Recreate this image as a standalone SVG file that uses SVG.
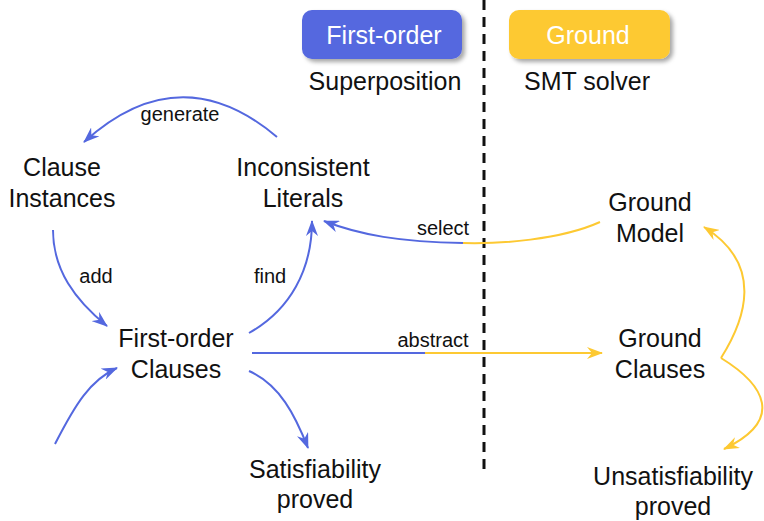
<svg xmlns="http://www.w3.org/2000/svg" width="764" height="521" viewBox="0 0 764 521">
<style>
text{font-family:"Liberation Sans",Arial,sans-serif;fill:#111;text-anchor:middle}
.n{font-size:25px}
.l{font-size:20px}
.h{font-size:25px;fill:#fff}
.b{fill:none;stroke:#5468df;stroke-width:2}
.y{fill:none;stroke:#fdc932;stroke-width:2}
</style>
<defs>
<filter id="sh" x="-10%" y="-20%" width="130%" height="160%">
<feDropShadow dx="3" dy="3" stdDeviation="2" flood-color="#000" flood-opacity="0.35"/>
</filter>
<marker id="ab" markerUnits="userSpaceOnUse" viewBox="0 0 16 12" refX="15" refY="6" markerWidth="16" markerHeight="12" orient="auto">
<path d="M0,0 L16,6 L0,12 L5,6 z" fill="#5468df"/>
</marker>
<marker id="ay" markerUnits="userSpaceOnUse" viewBox="0 0 16 12" refX="15" refY="6" markerWidth="16" markerHeight="12" orient="auto">
<path d="M0,0 L16,6 L0,12 L5,6 z" fill="#fdc932"/>
</marker>
</defs>

<line x1="484" y1="0" x2="484" y2="472" stroke="#111" stroke-width="3" stroke-dasharray="10,7"/>

<g id="hdr-first">
<rect x="302" y="10" width="160" height="49" rx="10" fill="#5468df" filter="url(#sh)"/>
<text class="h" x="384" y="44">First-order</text>
<text class="n" x="385" y="90">Superposition</text>
</g>
<g id="hdr-ground">
<rect x="509" y="10" width="161" height="49" rx="10" fill="#fdc932" filter="url(#sh)"/>
<text class="h" x="588" y="44">Ground</text>
<text class="n" x="587" y="90">SMT solver</text>
</g>

<g id="connectors">
<path class="b" d="M277,137 Q180,55 84,142" marker-end="url(#ab)"/>
<text class="l" x="180" y="121">generate</text>
<path class="b" d="M53,230 C53,270 75,300 107,326" marker-end="url(#ab)"/>
<text class="l" x="96" y="283">add</text>
<path class="b" d="M249,333 C290,310 312,270 312,221" marker-end="url(#ab)"/>
<text class="l" x="270" y="283">find</text>
<path class="y" d="M600,222 C560,240 500,244 463,243"/>
<path class="b" d="M463,243 C400,242 360,235 324,221" marker-end="url(#ab)"/>
<text class="l" x="443" y="235">select</text>
<path class="b" d="M252,353 L426,353"/>
<path class="y" d="M425,353 L602,353" marker-end="url(#ay)"/>
<text class="l" x="433" y="347">abstract</text>
<path class="b" d="M249,371 C280,385 295,415 308,448" marker-end="url(#ab)"/>
<path class="b" d="M55,444 C75,405 90,380 117,368" marker-end="url(#ab)"/>
<path class="y" d="M721,358 C745,320 765,265 704,227" marker-end="url(#ay)"/>
<path class="y" d="M721,358 C765,385 785,420 724,449" marker-end="url(#ay)"/>
</g>

<g id="clause-instances"><text class="n" x="62" y="176">Clause</text><text class="n" x="62" y="207">Instances</text></g>
<g id="inconsistent-literals"><text class="n" x="303" y="176">Inconsistent</text><text class="n" x="303" y="207">Literals</text></g>
<g id="first-order-clauses"><text class="n" x="176" y="347">First-order</text><text class="n" x="176" y="378">Clauses</text></g>
<g id="sat-proved"><text class="n" x="315" y="478">Satisfiability</text><text class="n" x="315" y="508">proved</text></g>
<g id="ground-model"><text class="n" x="650" y="211">Ground</text><text class="n" x="650" y="242">Model</text></g>
<g id="ground-clauses"><text class="n" x="660" y="347">Ground</text><text class="n" x="660" y="378">Clauses</text></g>
<g id="unsat-proved"><text class="n" x="673" y="485">Unsatisfiability</text><text class="n" x="673" y="515">proved</text></g>
</svg>
